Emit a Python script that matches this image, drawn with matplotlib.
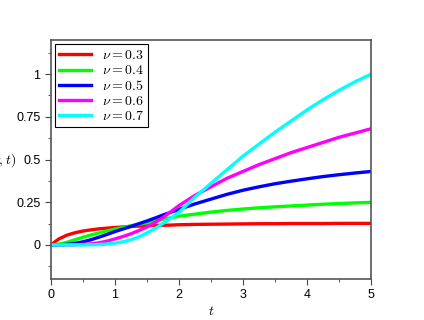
import matplotlib
matplotlib.use("Agg")
import matplotlib.pyplot as plt
from matplotlib.ticker import MultipleLocator

plt.rcParams['font.family'] = ['Liberation Sans', 'DejaVu Sans']
plt.rcParams['mathtext.fontset'] = 'cm'

# data
t = [0, 0.125, 0.25, 0.375, 0.5, 0.625, 0.75, 0.875, 1, 1.125, 1.25, 1.375,
     1.5, 1.625, 1.75, 1.875, 2, 2.25, 2.5, 2.75, 3, 3.25, 3.5, 3.75,
     4, 4.25, 4.5, 4.75, 5]
nu_03 = [0, 0.035, 0.057, 0.071, 0.081, 0.088, 0.094, 0.098, 0.102, 0.105, 0.108, 0.11,
         0.112, 0.114, 0.115, 0.116, 0.118, 0.12, 0.121, 0.122, 0.123, 0.124, 0.124, 0.125,
         0.125, 0.125, 0.126, 0.126, 0.126]
nu_04 = [0, 0.004, 0.015, 0.03, 0.045, 0.058, 0.07, 0.082, 0.092, 0.102, 0.112, 0.121,
         0.13, 0.14, 0.15, 0.159, 0.168, 0.18, 0.192, 0.202, 0.21, 0.217, 0.223, 0.228,
         0.233, 0.238, 0.242, 0.246, 0.249]
nu_05 = [0, 0, 0.003, 0.009, 0.018, 0.03, 0.045, 0.061, 0.078, 0.093, 0.108, 0.124,
         0.14, 0.157, 0.175, 0.191, 0.208, 0.24, 0.268, 0.296, 0.32, 0.34, 0.358, 0.373,
         0.387, 0.4, 0.411, 0.421, 0.43]
nu_06 = [0, 0, 0, 0.001, 0.003, 0.006, 0.012, 0.022, 0.035, 0.049, 0.065, 0.084,
         0.105, 0.131, 0.16, 0.195, 0.23, 0.29, 0.34, 0.39, 0.43, 0.47, 0.505, 0.54,
         0.57, 0.6, 0.63, 0.655, 0.68]
nu_07 = [0, 0, 0, 0, 0, 0.001, 0.002, 0.005, 0.01, 0.018, 0.03, 0.047,
         0.07, 0.096, 0.125, 0.157, 0.19, 0.28, 0.36, 0.44, 0.52, 0.59, 0.66, 0.725,
         0.79, 0.85, 0.905, 0.955, 1.0]

series = [nu_03, nu_04, nu_05, nu_06, nu_07]
labels = [r'$\nu = 0.3$', r'$\nu = 0.4$', r'$\nu = 0.5$', r'$\nu = 0.6$', r'$\nu = 0.7$']
colors = ['#ff0000', '#00ff00', '#0000ff', '#ff00ff', '#00ffff']

fig = plt.figure(figsize=(4.24, 3.2), dpi=100)
ax = fig.add_axes([0.12, 0.128, 0.755, 0.747])

for y, lab, c in zip(series, labels, colors):
    ax.plot(t, y, color=c, lw=2.4, label=lab)

ax.set_xlim(0, 5)
ax.set_ylim(-0.2, 1.2)
ax.xaxis.set_major_locator(MultipleLocator(1))
ax.xaxis.set_minor_locator(MultipleLocator(0.5))
ax.set_yticks([0, 0.25, 0.5, 0.75, 1])
ax.set_yticklabels(['0', '0.25', '0.5', '0.75', '1'])
ax.yaxis.set_minor_locator(MultipleLocator(0.125))
ax.tick_params(which='both', direction='out', labelsize=9, color='#444444')
ax.tick_params(which='major', length=4)
ax.tick_params(which='minor', length=2.5)
for s in ax.spines.values():
    s.set_color('#555555')
    s.set_linewidth(1.2)

ax.set_xlabel(r'$t$', fontsize=10, labelpad=2)
# label is partly cut by the figure edge, as in the reference
ax.set_ylabel(r'$\langle x^2\rangle(\nu,t)$', fontsize=10, rotation=0, ha='right', va='center')
ax.yaxis.set_label_coords(-0.108, 0.5)

leg = ax.legend(loc='upper left', fontsize=10, handlelength=2.3, labelspacing=0.08,
                borderpad=0.3, handletextpad=0.8, fancybox=False, framealpha=1,
                edgecolor='black', borderaxespad=0.3)
leg.get_frame().set_linewidth(0.8)

fig.savefig('out.png', dpi=100)
